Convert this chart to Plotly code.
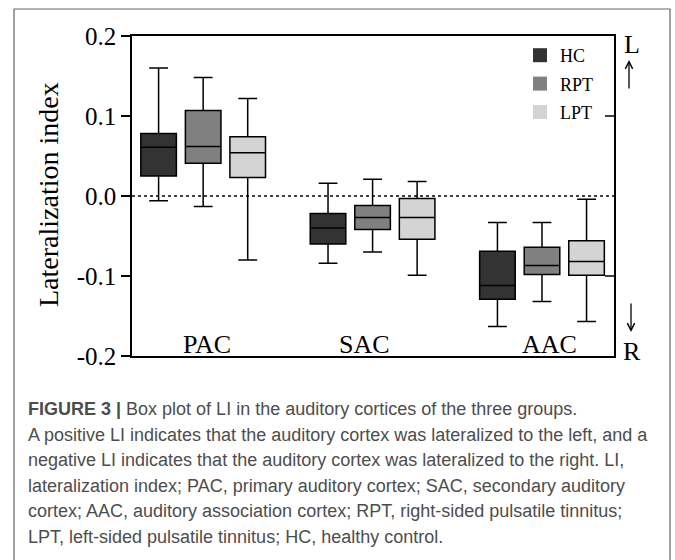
import plotly.graph_objects as go

# ---- data ----
regions = ["PAC", "SAC", "AAC"]
groups = ["HC", "RPT", "LPT"]

upper = {
    "HC":  [0.160, 0.016, -0.033],
    "RPT": [0.148, 0.021, -0.033],
    "LPT": [0.122, 0.018, -0.004],
}
q3 = {
    "HC":  [0.078, -0.022, -0.069],
    "RPT": [0.107, -0.012, -0.064],
    "LPT": [0.074, -0.003, -0.056],
}
median = {
    "HC":  [0.061, -0.040, -0.112],
    "RPT": [0.062, -0.027, -0.087],
    "LPT": [0.054, -0.027, -0.082],
}
q1 = {
    "HC":  [0.025, -0.060, -0.129],
    "RPT": [0.041, -0.042, -0.098],
    "LPT": [0.023, -0.054, -0.099],
}
lower = {
    "HC":  [-0.006, -0.084, -0.163],
    "RPT": [-0.013, -0.070, -0.132],
    "LPT": [-0.080, -0.099, -0.157],
}

ytick_vals = [-0.2, -0.1, 0.0, 0.1, 0.2]
ytick_text = ["-0.2", "-0.1", "0.0", "0.1", "0.2"]

caption_lines = [
    "<b>FIGURE 3 |</b> Box plot of LI in the auditory cortices of the three groups.",
    "A positive LI indicates that the auditory cortex was lateralized to the left, and a",
    "negative LI indicates that the auditory cortex was lateralized to the right. LI,",
    "lateralization index; PAC, primary auditory cortex; SAC, secondary auditory",
    "cortex; AAC, auditory association cortex; RPT, right-sided pulsatile tinnitus;",
    "LPT, left-sided pulsatile tinnitus; HC, healthy control.",
]

# ---- style ----
colors = {"HC": "#333333", "RPT": "#808080", "LPT": "#d4d4d4"}
offsets = {"HC": -0.263, "RPT": 0.0, "LPT": 0.263}
label_shift = [0.02, -0.045, 0.045]
SERIF = "Liberation Serif"
W, H = 675, 560
ML, MR, MT, MB = 132, 61, 36, 204
PW, PH = W - ML - MR, H - MT - MB


def px_x(x):
    return (x - ML) / PW


def px_y(y):
    return (H - MB - y) / PH


fig = go.Figure()
centers = [i + 1 for i in range(len(regions))]

for g in groups:
    fig.add_trace(go.Box(
        x=[c + offsets[g] for c in centers],
        q1=q1[g], median=median[g], q3=q3[g],
        lowerfence=lower[g], upperfence=upper[g],
        width=0.21, whiskerwidth=0.53,
        fillcolor=colors[g],
        line=dict(color="black", width=1.5),
        name=g, showlegend=False, hoverinfo="skip",
    ))

for g in groups:
    fig.add_trace(go.Scatter(
        x=[None], y=[None], mode="markers", name=g, legendgroup=g,
        marker=dict(symbol="square", size=14, color=colors[g]),
    ))

# zero reference line
fig.add_shape(type="line", xref="paper", yref="y", x0=0, x1=1, y0=0, y1=0,
              line=dict(color="black", width=1.5, dash="dot"), layer="below")

# right-side inner ticks at +/-0.1
for v in [0.1, -0.1]:
    fig.add_shape(type="line", xref="paper", yref="y", xsizemode="pixel",
                  xanchor=1, x0=-9, x1=0, y0=v, y1=v,
                  line=dict(color="black", width=1.5))

# outer frame
fig.add_shape(type="rect", xref="paper", yref="paper",
              x0=px_x(14), x1=px_x(670), y0=px_y(9), y1=px_y(575),
              line=dict(color="#666666", width=1.2), fillcolor="rgba(0,0,0,0)")

ann = []
# region labels
for i, r in enumerate(regions):
    ann.append(dict(x=centers[i] + label_shift[i], y=-0.185, xref="x", yref="y",
                    text=r, showarrow=False,
                    font=dict(family=SERIF, size=26, color="black")))
# L / R letters
for txt, xx, yy in [("L", 632, 45), ("R", 632, 351)]:
    ann.append(dict(x=px_x(xx), y=px_y(yy), xref="paper", yref="paper",
                    xanchor="center", yanchor="middle",
                    text=txt, showarrow=False,
                    font=dict(family=SERIF, size=26, color="black")))
# arrows (head at x,y; tail offset in pixels)
for xx, yy, dy in [(629, 60, 30), (631, 332, -30)]:
    ann.append(dict(x=px_x(xx), y=px_y(yy), xref="paper", yref="paper",
                    ax=0, ay=dy, text="", showarrow=True,
                    arrowhead=5, arrowsize=1.1, arrowwidth=1.3,
                    arrowcolor="black", standoff=0, startstandoff=0))
# y-axis title
ann.append(dict(x=px_x(48), y=px_y(195), xref="paper", yref="paper",
                xanchor="center", yanchor="middle",
                text="Lateralization index", textangle=-90, showarrow=False,
                font=dict(family=SERIF, size=28, color="black")))
# caption
for i, line in enumerate(caption_lines):
    ann.append(dict(x=px_x(26), y=px_y(409 + 25.6 * i), xref="paper", yref="paper",
                    xanchor="left", yanchor="middle", text=line, showarrow=False,
                    font=dict(family="Liberation Sans", size=18, color="#4d4d4d")))

fig.update_layout(
    width=W, height=H,
    margin=dict(l=ML, r=MR, t=MT, b=MB),
    plot_bgcolor="white", paper_bgcolor="white",
    boxmode="overlay",
    showlegend=True,
    legend=dict(x=px_x(520), y=px_y(37), xanchor="left", yanchor="top",
                bgcolor="rgba(0,0,0,0)", tracegroupgap=2,
                font=dict(family=SERIF, size=18, color="black")),
    annotations=ann,
    xaxis=dict(range=[0.58, 3.425], showticklabels=False, ticks="",
               showgrid=False, zeroline=False, showline=True,
               linecolor="black", linewidth=1.5, mirror=True),
    yaxis=dict(range=[-0.2, 0.2], tickvals=ytick_vals, ticktext=ytick_text,
               ticks="outside", ticklen=9, tickwidth=1.5, tickcolor="black",
               showgrid=False, zeroline=False, showline=True,
               linecolor="black", linewidth=1.5, mirror=True,
               tickfont=dict(family=SERIF, size=25, color="black")),
)

fig.write_html(
    "out.html",
    config={"displayModeBar": False},
    post_script="document.body.style.margin='0';document.body.style.overflow='hidden';",
)
